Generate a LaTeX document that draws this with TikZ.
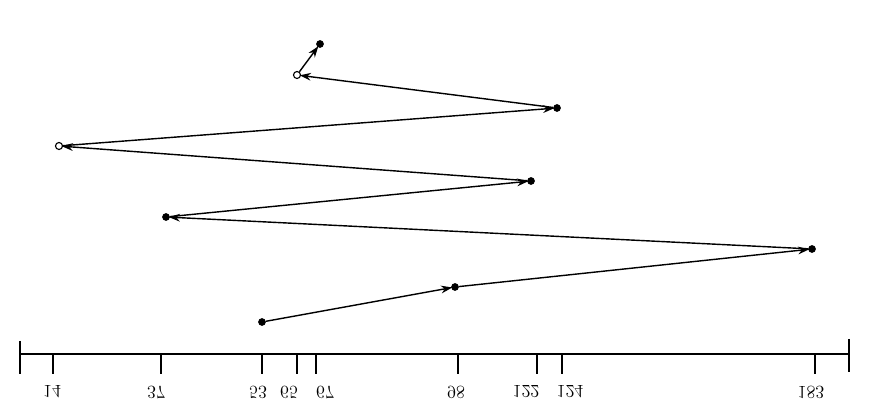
\documentclass[tikz,border=0pt]{standalone}
\usetikzlibrary{arrows.meta}
\begin{document}
\begin{tikzpicture}[x=0.025cm, y=-0.025cm,
    dot/.style={circle, fill, inner sep=0pt, minimum size=5.5pt},
    hollow/.style={circle, draw, fill=white, inner sep=0pt, minimum size=5pt, line width=0.8pt},
    seek/.style={-{Stealth[length=8pt,width=5.5pt]}, line width=1pt, shorten >=-1pt},
    tick/.style={line width=1pt},
    lbl/.style={font=\fontsize{13}{15}\selectfont, inner sep=1pt}
]
\useasboundingbox (0,0) rectangle (869,418);

% Cylinder axis
\coordinate (axL) at (20,354);
\coordinate (axR) at (849,354);
\draw[tick] (axL) -- (axR);
\draw[tick] (axL) ++(0,-13) -- ++(0,33);
\draw[tick] (axR) ++(0,-15) -- ++(0,33);

% Ticks and cylinder numbers (printed upside down)
\foreach \v/\p/\q in {14/53/52, 37/161/156, 53/262/258, 65/297/289, 67/316/325,
                      98/458/456, 122/537/526, 124/562/570, 183/815/811}{
    \coordinate (t\v) at (\p,354);
    \draw[tick] (t\v) -- ++(0,20);
    \node[lbl] (n\v) at (\q,392) {\scalebox{1}[-1]{\v}};
}

% Head positions
\node[dot] (h0) at (262,322) {};
\node[dot] (h1) at (455,287) {};
\node[dot] (h2) at (812,249) {};
\node[dot] (h3) at (166,217) {};
\node[dot] (h4) at (531,181) {};
\node[hollow] (h5) at (59,146) {};
\node[dot] (h6) at (557,108) {};
\node[hollow] (h7) at (297,75) {};
\node[dot] (h8) at (320,44) {};

% Head movement
\foreach \a/\b in {h0/h1, h1/h2, h2/h3, h3/h4, h4/h5, h5/h6, h6/h7, h7/h8}{
    \draw[seek] (\a) -- (\b);
}

\end{tikzpicture}
\end{document}
